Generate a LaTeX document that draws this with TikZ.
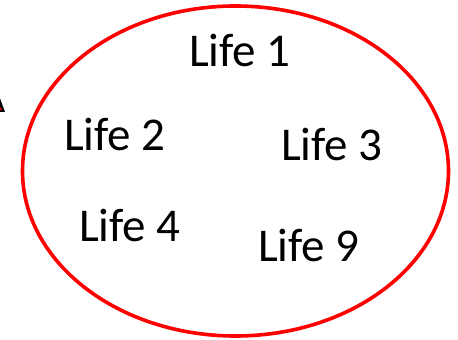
\documentclass[tikz,border=0pt]{standalone}
\usepackage{fontspec}
\setmainfont{Carlito}
\begin{document}
\begin{tikzpicture}[x=1pt,y=1pt,
  lifelabel/.style={inner sep=0pt,anchor=base west,font=\fontsize{47}{50}\selectfont}]
\useasboundingbox (0,0) rectangle (458,340);
\clip (0,0) rectangle (458,340);
% clipped arrowhead fragment at the left edge
\fill[black] (-2,247) -- (5,228) -- (-2,228) -- cycle;
\fill[red] (-2,236) -- (2,230) -- (-2,230) -- cycle;
\draw[red,line width=3.6pt] (235.5,169) ellipse [x radius=213, y radius=165];
\node[lifelabel] (l1) at (189,273) {Life 1};
\node[lifelabel] (l2) at (64,189) {Life 2};
\node[lifelabel] (l3) at (281,179) {Life 3};
\node[lifelabel] (l4) at (79,98) {Life 4};
\node[lifelabel] (l9) at (258,78) {Life 9};
\end{tikzpicture}
\end{document}
